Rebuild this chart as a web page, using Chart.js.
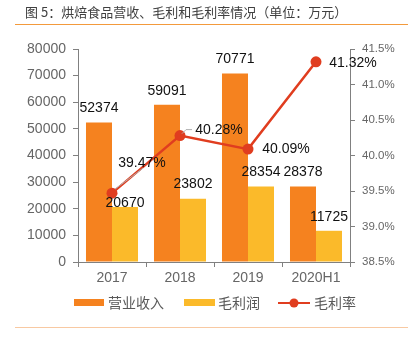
<!DOCTYPE html>
<html>
<head>
<meta charset="utf-8">
<script src="https://cdn.jsdelivr.net/npm/chart.js@4.4.1/dist/chart.umd.min.js"></script>
<style>
html,body{margin:0;padding:0;background:#fff;}
#wrap{position:relative;width:413px;height:341px;}
</style>
</head>
<body>
<div id="wrap"><canvas id="c" width="413" height="341"></canvas></div>
<script>
const categories = ['2017', '2018', '2019', '2020H1'];
const revenue = [52374, 59091, 70771, 28378];
const grossProfit = [20670, 23802, 28354, 11725];
const grossMargin = [39.47, 40.28, 40.09, 41.32];
const seriesNames = ['营业收入', '毛利润', '毛利率'];
const titleText = '图 5：烘焙食品营收、毛利和毛利率情况（单位：万元）';

const ORANGE = '#F5821F';
const YELLOW = '#FBBA2A';
const RED = '#E03D1F';
const GRAY = '#666666';
const NUM_FONT = "'Liberation Sans', Arial, sans-serif";
const CJK_FONT = "'Noto Sans CJK SC', sans-serif";

const decorPlugin = {
  id: 'decor',
  afterDatasetsDraw(chart) {
    const ctx = chart.ctx;
    ctx.save();
    ctx.font = '14px ' + NUM_FONT;
    ctx.fillStyle = '#111';
    ctx.textAlign = 'center';
    ctx.textBaseline = 'middle';
    [0, 1].forEach(di => {
      const meta = chart.getDatasetMeta(di);
      const data = chart.data.datasets[di].data;
      meta.data.forEach((bar, i) => {
        let dy = -14;
        if (di === 1 && i === 0) dy = -4;
        ctx.fillText(String(data[i]), bar.x, bar.y + dy);
      });
    });
    const lm = chart.getDatasetMeta(2);
    const offs = [[30, -30], [39, -5], [38, 0], [37, 1]];
    ctx.strokeStyle = '#b0b0b0';
    ctx.lineWidth = 1;
    const p0 = lm.data[0];
    ctx.beginPath();
    ctx.moveTo(p0.x + 3, p0.y - 4);
    ctx.lineTo(p0.x + 31, p0.y - 25);
    ctx.stroke();
    const p1 = lm.data[1];
    ctx.beginPath();
    ctx.moveTo(p1.x + 2, p1.y - 2);
    ctx.lineTo(p1.x + 6, p1.y - 6);
    ctx.lineTo(p1.x + 12, p1.y - 6);
    ctx.stroke();
    ctx.fillStyle = '#111';
    lm.data.forEach((pt, i) => {
      ctx.fillText(grossMargin[i].toFixed(2) + '%', pt.x + offs[i][0], pt.y + offs[i][1]);
    });
    ctx.restore();
  },
  afterDraw(chart) {
    const ctx = chart.ctx;
    ctx.save();
    ctx.font = '13px ' + CJK_FONT;
    ctx.fillStyle = '#404040';
    ctx.textAlign = 'left';
    ctx.textBaseline = 'middle';
    ctx.fillText(titleText, 25, 12);
    ctx.strokeStyle = '#F39A3C';
    ctx.lineWidth = 1;
    ctx.beginPath(); ctx.moveTo(15, 24.5); ctx.lineTo(408, 24.5); ctx.stroke();
    ctx.strokeStyle = '#F8C9A2';
    ctx.beginPath(); ctx.moveTo(15, 327.5); ctx.lineTo(408, 327.5); ctx.stroke();
    const ly = 303;
    ctx.font = '14px ' + CJK_FONT;
    ctx.fillStyle = ORANGE; ctx.fillRect(74, ly - 4, 30, 7);
    ctx.fillStyle = '#595959'; ctx.fillText(seriesNames[0], 108, ly);
    ctx.fillStyle = YELLOW; ctx.fillRect(184, ly - 4, 31, 7);
    ctx.fillStyle = '#595959'; ctx.fillText(seriesNames[1], 218, ly);
    ctx.strokeStyle = RED; ctx.lineWidth = 2;
    ctx.beginPath(); ctx.moveTo(278, ly); ctx.lineTo(310, ly); ctx.stroke();
    ctx.fillStyle = RED;
    ctx.beginPath(); ctx.arc(294, ly, 4.5, 0, Math.PI * 2); ctx.fill();
    ctx.fillStyle = '#595959'; ctx.fillText(seriesNames[2], 314, ly);
    ctx.restore();
  }
};

new Chart(document.getElementById('c'), {
  type: 'bar',
  data: {
    labels: categories,
    datasets: [
      { label: seriesNames[0], data: revenue, backgroundColor: ORANGE, yAxisID: 'y', order: 1,
        categoryPercentage: 0.765, barPercentage: 1.0 },
      { label: seriesNames[1], data: grossProfit, backgroundColor: YELLOW, yAxisID: 'y', order: 2,
        categoryPercentage: 0.765, barPercentage: 1.0 },
      { label: seriesNames[2], data: grossMargin, type: 'line', yAxisID: 'y1', order: 0,
        borderColor: RED, backgroundColor: RED, borderWidth: 2.5, pointRadius: 5.5,
        pointBackgroundColor: RED, pointBorderWidth: 0, tension: 0 }
    ]
  },
  options: {
    responsive: false,
    animation: false,
    devicePixelRatio: 1,
    layout: { padding: { top: 49, left: 0, right: 0, bottom: 54 } },
    plugins: { legend: { display: false }, tooltip: { enabled: false }, title: { display: false } },
    scales: {
      x: {
        afterFit(s) { s.height = 25; },
        grid: { display: true, offset: true, drawOnChartArea: false, drawTicks: true, tickLength: 5, color: '#808080' },
        border: { display: true, color: '#808080' },
        ticks: { color: GRAY, font: { family: NUM_FONT, size: 14 }, padding: 3, maxRotation: 0 }
      },
      y: {
        position: 'left',
        min: 0, max: 80000,
        afterFit(s) { s.width = 78; },
        grid: { display: true, drawOnChartArea: false, drawTicks: true, tickLength: 5, color: '#808080' },
        border: { display: true, color: '#808080' },
        ticks: { stepSize: 10000, color: GRAY, font: { family: NUM_FONT, size: 14 }, padding: 7,
          callback: v => String(v) }
      },
      y1: {
        position: 'right',
        min: 38.5, max: 41.5,
        afterFit(s) { s.width = 63; },
        grid: { display: true, drawOnChartArea: false, drawTicks: true, tickLength: 5, color: '#808080' },
        border: { display: true, color: '#808080' },
        ticks: { stepSize: 0.5, color: GRAY, font: { family: NUM_FONT, size: 11.5 }, padding: 7,
          callback: v => v.toFixed(1) + '%' }
      }
    }
  },
  plugins: [decorPlugin]
});
</script>
</body>
</html>
